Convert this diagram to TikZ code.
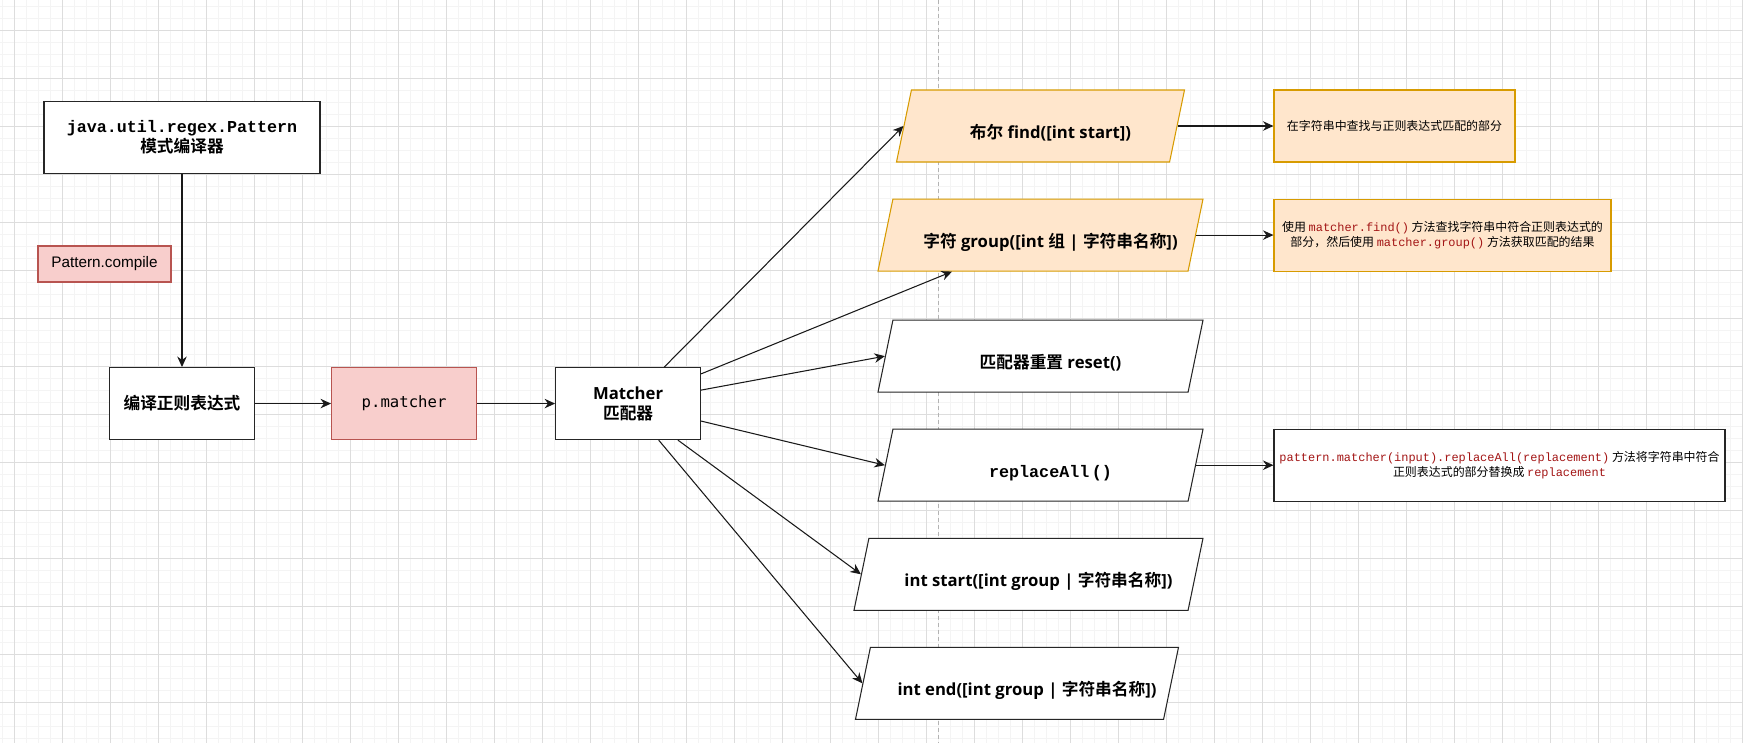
\documentclass[tikz,border=0pt]{standalone}
\usepackage{fontspec}
\setmainfont{Open Sans}
\setmonofont{Liberation Mono}
\newfontfamily\cjk{Noto Sans CJK SC}[BoldFont={Noto Sans CJK SC Bold}]
\newfontfamily\labelfont{Liberation Sans}
\newfontfamily\consfont{DejaVu Sans Mono}
\usetikzlibrary{positioning, arrows.meta, shapes.geometric, calc}
\definecolor{noteorange}{HTML}{FFE6CC}
\definecolor{noteedge}{HTML}{D79B00}
\definecolor{tagred}{HTML}{F8CECC}
\definecolor{tagedge}{HTML}{B85450}
\definecolor{codered}{HTML}{A31515}
\definecolor{gridmajor}{HTML}{DDDDDD}
\definecolor{gridminor}{HTML}{F4F4F4}
\definecolor{guidegray}{HTML}{B3B3B3}
\newcommand{\mainsize}{\fontsize{9.5}{11.5}\selectfont}
\newcommand{\notesize}{\fontsize{6.8}{8.5}\selectfont}
\newcommand{\code}[1]{{\ttfamily\color{codered}#1}}

\begin{document}
\begin{tikzpicture}[
    box/.style={
        rectangle,
        draw=black!85,
        fill=white,
        line width=0.6pt,
        align=center,
        minimum width=2.9cm,
        minimum height=1.44cm,
        inner sep=2pt,
        font=\mainsize\bfseries
    },
    tagbox/.style={
        rectangle,
        draw=tagedge,
        fill=tagred,
        line width=0.6pt,
        minimum height=0.72cm,
        inner sep=2pt
    },
    methodbox/.style={
        trapezium,
        trapezium left angle=71,
        trapezium right angle=109,
        trapezium stretches body,
        draw=black!85,
        fill=white,
        line width=0.6pt,
        minimum height=1.44cm,
        inner xsep=0pt,
        text height=16pt,
        text depth=2pt,
        font=\mainsize\bfseries
    },
    hotmethod/.style={
        methodbox,
        draw=noteedge,
        fill=noteorange
    },
    notebox/.style={
        rectangle,
        draw=noteedge,
        fill=noteorange,
        line width=0.6pt,
        align=center,
        minimum height=1.44cm,
        inner sep=2pt,
        font=\cjk\notesize
    },
    plainnote/.style={
        notebox,
        draw=black!85,
        fill=white
    },
    arrow/.style={
        line width=0.6pt,
        draw=black!90,
        -{Stealth[length=0.21cm, width=0.19cm]}
    },
    guide/.style={
        draw=guidegray,
        line width=0.5pt,
        dash pattern=on 0.08cm off 0.06cm
    }
]

% Canvas and grid
\fill[white] (0,0) rectangle (34.86,-14.86);
\useasboundingbox (0,0) rectangle (34.86,-14.86);
\foreach \gx in {0.04,0.28,...,34.86} \draw[gridminor, line width=0.5pt] (\gx,0) -- (\gx,-14.86);
\foreach \gy in {-0.134,-0.374,...,-14.86} \draw[gridminor, line width=0.5pt] (0,\gy) -- (34.86,\gy);
\foreach \gx in {0.28,1.24,...,34.86} \draw[gridmajor, line width=0.5pt] (\gx,0) -- (\gx,-14.86);
\foreach \gy in {-0.614,-1.574,...,-14.86} \draw[gridmajor, line width=0.5pt] (0,\gy) -- (34.86,\gy);
\coordinate (guidetop) at (18.77,0);
\coordinate (guidebot) at (18.77,-14.86);
\draw [guide] (guidetop) -- (guidebot);

% Nodes
\node (pattern) [box, minimum width=5.52cm] at (3.64,-2.75) {{\ttfamily java.util.regex.Pattern}\\{\cjk 模式编译器}};
\node (compile) [tagbox, minimum width=2.66cm, font=\labelfont\fontsize{8.7}{10}\selectfont] at (2.09,-5.28) {Pattern.compile};
\node (regex) [box, below=3.86cm of pattern] {\cjk 编译正则表达式};
\node (pmatcher) [box, draw=tagedge, fill=tagred, font=\consfont\fontsize{8.9}{11}\selectfont, right=1.52cm of regex] {p.matcher};
\node (matcher) [box, right=1.56cm of pmatcher] {Matcher\\{\cjk 匹配器}};

\node (find) [hotmethod, minimum width=5.76cm] at (20.81,-2.52) {\hspace*{0.4cm}{\cjk 布尔} find([int start])};
\node (group) [hotmethod, minimum width=6.5cm, below=0.72cm of find] {\hspace*{0.4cm}{\cjk 字符} group([int {\cjk 组} | {\cjk 字符串名称}])};
\node (reset) [methodbox, minimum width=6.5cm, below=0.96cm of group] {\hspace*{0.4cm}{\cjk 匹配器重置} reset()};
\node (replace) [methodbox, minimum width=6.5cm, below=0.72cm of reset] {\hspace*{0.4cm}{\ttfamily replaceAll\kern0.15em()}};
\node (startpos) [methodbox, minimum width=6.98cm, below=0.72cm of replace, xshift=-0.24cm] {\hspace*{0.4cm}int start([int group | {\cjk 字符串名称}])};
\node (endpos) [methodbox, minimum width=6.46cm, below=0.72cm of startpos, xshift=-0.23cm] {\hspace*{0.4cm}int end([int group | {\cjk 字符串名称}])};

\node (finddesc) [notebox, minimum width=4.82cm] at (27.89,0 |- find.east) {在字符串中查找与正则表达式匹配的部分};
\node (groupdesc) [notebox, minimum width=6.74cm] at (28.85,0 |- group.east) {使用 \code{matcher.find()} 方法查找字符串中符合正则表达式的\\部分，然后使用 \code{matcher.group()} 方法获取匹配的结果};
\node (repdesc) [plainnote, minimum width=9.02cm] at (29.99,0 |- replace.east) {\code{pattern.matcher(input).replaceAll(replacement)} 方法将字符串中符合\\正则表达式的部分替换成 \code{replacement}};

\coordinate (grouptap) at ($(group.bottom left corner)!0.24!(group.bottom right corner)$);

% Connections
\draw [arrow] (pattern) -- (regex);
\draw [arrow] (regex) -- (pmatcher);
\draw [arrow] (pmatcher) -- (matcher);

\draw [arrow] (matcher) -- (find.west);
\draw [arrow] (matcher) -- (grouptap);
\draw [arrow] (matcher) -- (reset.west);
\draw [arrow] (matcher) -- (replace.west);
\draw [arrow] (matcher) -- (startpos.west);
\draw [arrow] (matcher) -- (endpos.west);

\draw [arrow] (find.east) -- (finddesc.west);
\draw [arrow] (group.east) -- (groupdesc.west);
\draw [arrow] (replace.east) -- (repdesc.west);

\end{tikzpicture}
\end{document}
